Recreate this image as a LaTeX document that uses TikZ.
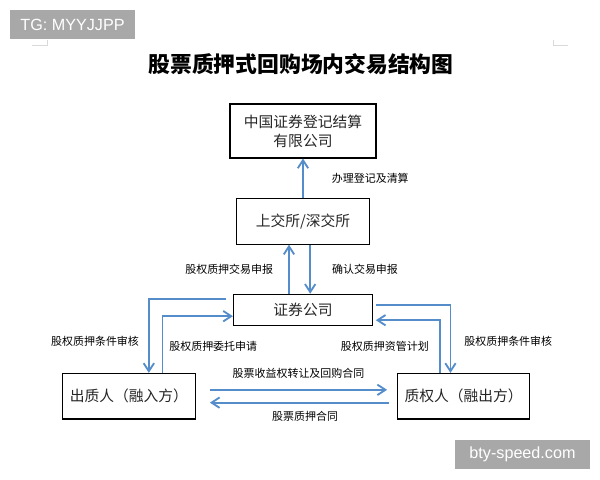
\documentclass[tikz,border=0pt]{standalone}
\usepackage{fontspec}
\setmainfont{Noto Sans CJK SC}
\newfontfamily\wmfont{Liberation Sans}
\usetikzlibrary{calc, positioning, arrows.meta}
\definecolor{flowblue}{RGB}{84,141,201}
\definecolor{wmgray}{RGB}{168,168,168}

\begin{document}
\begin{tikzpicture}[
    x=0.025cm, y=-0.025cm,
    box/.style={
        rectangle,
        draw=black,
        line width=0.8pt,
        inner sep=2pt,
        font=\fontsize{10.5}{13.5}\selectfont,
        text=black!85,
        align=center
    },
    lbl/.style={font=\fontsize{7.8}{9}\selectfont, inner sep=0pt},
    flow/.style={-{Straight Barb[length=2mm,width=2.6mm]}, line width=1.3pt, draw=flowblue},
    wmbox/.style={fill=wmgray, text=white, inner sep=0pt, font=\wmfont\fontsize{11.5}{13}\selectfont},
    cropline/.style={draw=black!15, line width=0.6pt}
]
\fill[white] (0,0) rectangle (600,480);
\useasboundingbox (0,0) rectangle (600,480);

% Watermarks and page marks
\node[wmbox, minimum width=3.125cm, minimum height=0.725cm] (tg) at (72.5,24.5) {TG: MYYJJPP};
\node[wmbox, minimum width=3.375cm, minimum height=0.725cm] (site) at (522.5,454.5) {bty-speed.com};
\draw[cropline] (32,45) -- (47,45) -- (47,40);
\draw[cropline] (553,40) -- (553,45) -- (568,45);

% Title
\node[font=\fontsize{15.5}{18}\selectfont\bfseries] (title) at (301,64) {股票质押式回购场内交易结构图};

% Boxes
\node[box, minimum width=3.65cm, minimum height=1.35cm] (csdc) at (303,131) {中国证券登记结算\\有限公司};
\node[box, minimum width=3.325cm, minimum height=1.15cm, below=0.975cm of csdc] (sse) {上交所/深交所};
\node[box, minimum width=3.475cm, minimum height=0.775cm, below=1.225cm of sse] (broker) {证券公司};
\node[box, minimum width=3.325cm, minimum height=1.14cm, below left=1.175cm and 0.925cm of broker] (pledgor) {出质人（融入方）};
\node[box, minimum width=3.3cm, minimum height=1.14cm, below right=1.175cm and 0.6cm of broker] (pledgee) {质权人（融出方）};

% Exchange to CSDC
\draw[flow] (sse.north) -- node[lbl, midway, right, xshift=0.7cm] (lreg) {办理登记及清算} (csdc.south);

% Broker and exchange
\draw[flow] ([xshift=-0.35cm]broker.north) --
    node[lbl, midway, left, xshift=-0.375cm] (lrep) {股权质押交易申报}
    ([xshift=-0.35cm]broker.north |- sse.south);
\draw[flow] ([xshift=0.18cm]sse.south) --
    node[lbl, midway, right, xshift=0.525cm] (lconf) {确认交易申报}
    ([xshift=0.18cm]sse.south |- broker.north);

% Broker and pledgor
\draw[flow] ([xshift=-0.18cm,yshift=0.26cm]broker.west) -|
    node[lbl, pos=0.75, left, xshift=-0.225cm, yshift=-0.14cm] (lchka) {股权质押条件审核}
    ([xshift=0.5cm]pledgor.north);
\draw[flow] ([xshift=0.84cm]pledgor.north) |-
    node[lbl, pos=0.25, right, xshift=0.15cm, yshift=-0.05cm] (lappl) {股权质押委托申请}
    ([yshift=-0.16cm]broker.west);

% Broker and pledgee
\draw[flow] ([xshift=0.08cm,yshift=0.11cm]broker.east) -|
    node[lbl, pos=0.75, right, xshift=0.325cm, yshift=-0.05cm] (lchkb) {股权质押条件审核}
    ([xshift=-0.33cm]pledgee.north);
\draw[flow] ([xshift=-0.6cm]pledgee.north) |-
    node[lbl, pos=0.25, left, xshift=-0.25cm] (lplan) {股权质押资管计划}
    ([xshift=0.07cm,yshift=-0.26cm]broker.east);

% Pledgor and pledgee
\draw[flow] ([xshift=0.35cm,yshift=0.16cm]pledgor.east) --
    node[lbl, midway, above, yshift=0.25cm] (ltrans) {股票收益权转让及回购合同}
    ([xshift=-0.25cm,yshift=0.16cm]pledgee.west);
\draw[flow] ([xshift=-0.2cm,yshift=-0.16cm]pledgee.west) --
    node[lbl, midway, below, yshift=-0.2cm, xshift=0.14cm] (lpled) {股票质押合同}
    ([xshift=0.35cm,yshift=-0.16cm]pledgor.east);
\end{tikzpicture}
\end{document}
